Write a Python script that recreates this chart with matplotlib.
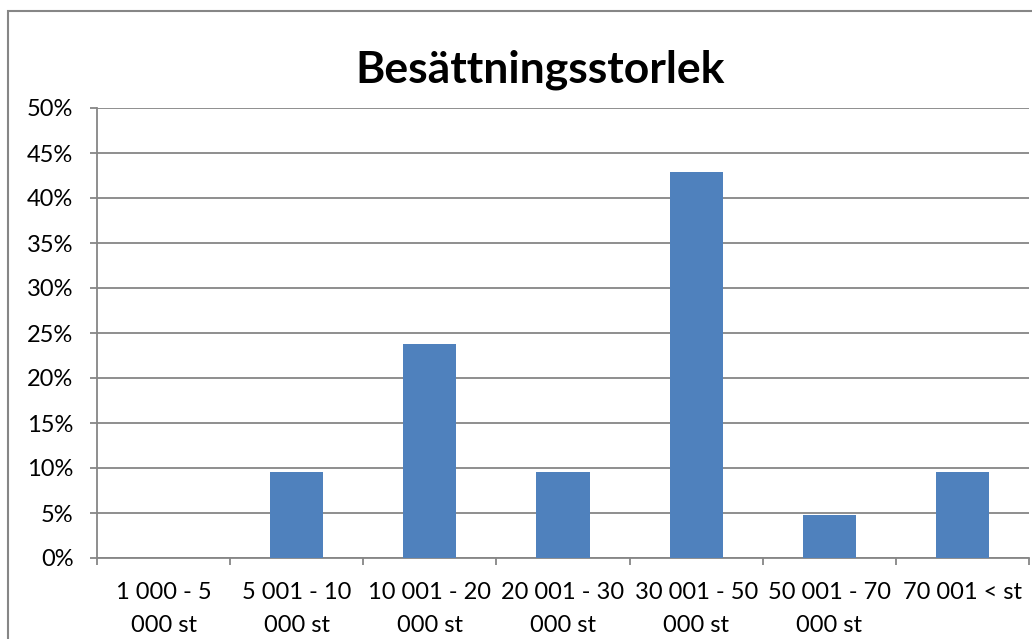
import matplotlib
matplotlib.use('Agg')
import matplotlib.pyplot as plt
from matplotlib.patches import Rectangle
from matplotlib.ticker import PercentFormatter, FixedLocator

categories = ['1 000 - 5\n000 st', '5 001 - 10\n000 st', '10 001 - 20\n000 st',
              '20 001 - 30\n000 st', '30 001 - 50\n000 st', '50 001 - 70\n000 st',
              '70 001 < st']
shares = [0.0, 9.52, 23.81, 9.52, 42.86, 4.76, 9.52]

plt.rcParams['font.family'] = ['Lato', 'DejaVu Sans']

W, H = 1032, 639
fig = plt.figure(figsize=(W / 100, H / 100), dpi=100)
ax = fig.add_axes([97 / W, 1 - 558 / H, (1029 - 97) / W, (558 - 108) / H])

grid = '#868686'
x = range(len(categories))
ax.bar(x, shares, width=0.4, color='#4F81BD', zorder=3)

ax.set_xlim(-0.5, len(categories) - 0.5)
ax.set_ylim(0, 50)
ax.set_yticks(range(0, 51, 5))
ax.yaxis.set_major_formatter(PercentFormatter(decimals=0))
ax.yaxis.grid(True, color=grid, linewidth=1.3, zorder=0)

# category boundaries get the tick marks, labels sit between them
ax.xaxis.set_major_locator(FixedLocator([i - 0.5 for i in range(len(categories) + 1)]))
ax.xaxis.set_minor_locator(FixedLocator(list(x)))
ax.set_xticklabels([])
ax.set_xticklabels(categories, minor=True)
ax.tick_params(axis='x', which='major', length=5, width=1.3, color=grid, direction='out')
ax.tick_params(axis='x', which='minor', length=0, pad=17, labelsize=17)
for lbl in ax.get_xticklabels(minor=True):
    lbl.set_linespacing(1.7)
    lbl.set_verticalalignment('top')
ax.tick_params(axis='y', length=5, width=1.3, color=grid, labelsize=17, pad=12)

for side in ['top', 'right']:
    ax.spines[side].set_visible(False)
for side in ['left', 'bottom']:
    ax.spines[side].set_color(grid)
    ax.spines[side].set_linewidth(1.3)

fig.text(540 / W, 1 - 70 / H, 'Besättningsstorlek', ha='center', va='center',
         fontsize=32, fontweight='bold')

fig.patches.append(Rectangle((8 / W, -0.1), 1.2, 1 - 11 / H + 0.1,
                             transform=fig.transFigure, fill=False,
                             edgecolor='#868686', linewidth=1.5))

fig.savefig('out.png', dpi=100)
